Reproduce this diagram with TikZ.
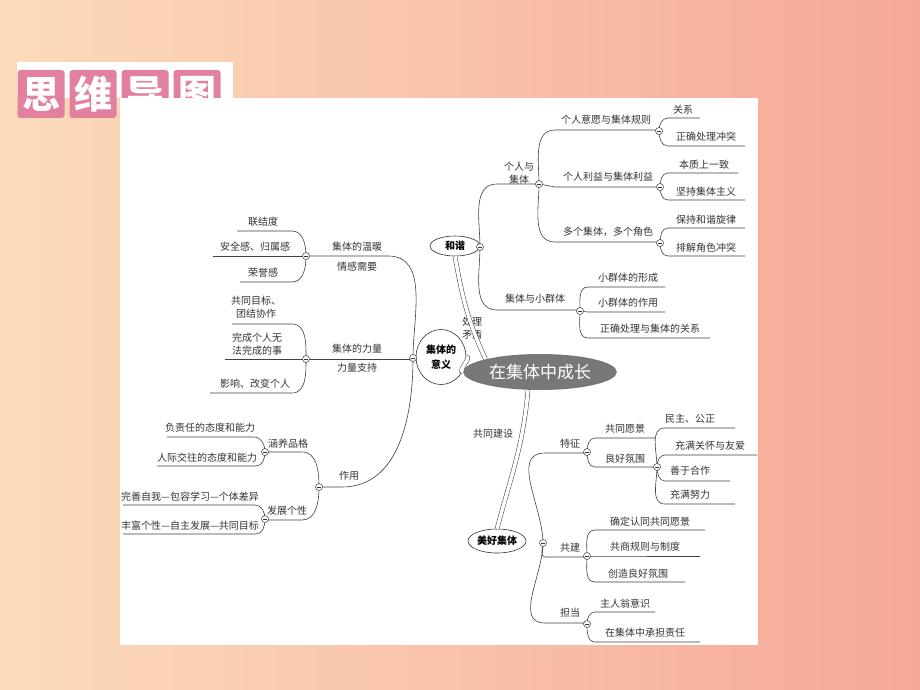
\documentclass[tikz,border=0pt]{standalone}
\usepackage{fontspec}
\setmainfont{Noto Sans CJK SC}
\usepackage{tikz}
\usetikzlibrary{shapes.geometric}
\definecolor{peach}{HTML}{FBDBBA}
\definecolor{salmon}{HTML}{F6A898}
\definecolor{titlepink}{HTML}{E2809F}
\definecolor{hub}{HTML}{787878}
\newcommand{\br}[7]{%
  \node[txt] (#1) at (#2,#3) {#7};
  \coordinate (#1-a) at (#5,#4);
  \coordinate (#1-b) at (#6,#4);}

\begin{document}
\begin{tikzpicture}[x=1pt,y=-1pt]
    \tikzstyle{txt}=[font=\fontsize{10}{13}\selectfont,inner sep=0pt,align=center,text=black!80]
    \tikzstyle{ttl}=[fill=titlepink,rounded corners=3pt,minimum width=47pt,minimum height=48pt,text=white,font=\fontsize{38}{38}\selectfont\bfseries]
    \tikzstyle{col}=[circle,draw=black!80,fill=white,line width=0.5pt,minimum size=7pt,inner sep=0pt,
      path picture={\draw ([xshift=1.5pt]path picture bounding box.west) -- ([xshift=-1.5pt]path picture bounding box.east);}]
    \tikzstyle{topic}=[ellipse,draw=black!80,fill=white,line width=0.6pt,inner sep=0pt,font=\fontsize{10}{15}\selectfont\bfseries,align=center]
    \tikzstyle{brl}=[draw=black!75,line width=0.6pt]
    \tikzstyle{link}=[draw=black!75,line width=0.5pt,double=white,double distance=3.5pt]

    % background and title
    \shade[left color=peach,right color=salmon] (0,0) rectangle (920,690);
    \fill[white] (17,62) rectangle (233,98);
    \node[ttl] (t1) at (41,94) {思};
    \node[ttl] (t2) at (93,94) {维};
    \node[ttl] (t3) at (145,94) {导};
    \node[ttl] (t4) at (197,94) {图};
    \fill[white] (120,98) rectangle (758,645);

    % main topics
    \node[ellipse,fill=hub,minimum width=115pt,minimum height=36pt,text=white,font=\fontsize{17}{17}\selectfont] (cen) at (540,372) {在集体中成长};
    \node[topic,minimum width=50pt,minimum height=55pt] (yi) at (441,357) {集体的\\意义};
    \node[topic,minimum width=50pt,minimum height=20pt] (hx) at (455,246) {和谐};
    \node[topic,minimum width=58pt,minimum height=24pt] (mh) at (497,541) {美好集体};
    \node[txt] (cl) at (472,328) {处理\\矛盾};
    \node[txt] (gjs) at (493,434) {共同建设};

    \draw[link] (hx.south) to[out=-80,in=115] (cen.north west);
    \draw[link] (yi.east) to[out=0,in=170] (cen.west);
    \draw[link] ([xshift=-12pt]cen.south) to[out=-95,in=75] (mh.north);

    % collapse points
    \coordinate (cA) at (480,247);
    \coordinate (cgr) at (539,184);
    \coordinate (cxq) at (580,311);
    \coordinate (cyy) at (659,131);
    \coordinate (cly) at (660,187);
    \coordinate (cdg) at (660,243);
    \coordinate (cM) at (543,543);
    \coordinate (ctz) at (587,452);
    \coordinate (clh) at (657,467);
    \coordinate (cgj) at (587,556);
    \coordinate (cdd) at (587,624);
    \coordinate (cY) at (413,358);
    \coordinate (cwn) at (306,256);
    \coordinate (cll) at (306,359);
    \coordinate (czy) at (319,487);
    \coordinate (chy) at (265,452);
    \coordinate (cfz) at (265,519);

    % harmony
    \br{gr}{519}{173}{184}{497}{539}{个人与\\集体}
    \br{xq}{535}{299}{310}{497}{580}{集体与小群体}
    \br{yy}{606}{120}{130}{555}{659}{个人意愿与集体规则}
    \br{ly}{608}{177}{187}{555}{660}{个人利益与集体利益}
    \br{dg}{608}{232}{242}{555}{660}{多个集体，多个角色}
    \br{gx}{683}{110}{118}{668}{700}{关系}
    \br{zq}{706}{137}{146}{668}{745}{正确处理冲突}
    \br{bz}{704}{165}{173}{668}{738}{本质上一致}
    \br{jc}{706}{192}{200}{668}{745}{坚持集体主义}
    \br{bc}{706}{220}{228}{668}{745}{保持和谐旋律}
    \br{pj}{706}{248}{256}{668}{745}{排解角色冲突}
    \br{xc}{628}{278}{287}{588}{665}{小群体的形成}
    \br{xz}{628}{303}{312}{588}{665}{小群体的作用}
    \br{zc}{650}{329}{338}{588}{710}{正确处理与集体的关系}

    \draw[brl] (cA) to[out=90,in=180] (gr-a) -- (gr-b);
    \draw[brl] (cA) to[out=-90,in=180] (xq-a) -- (xq-b);
    \draw[brl] (cgr) to[out=90,in=180] (yy-a) -- (yy-b);
    \draw[brl] (cgr) -- (ly-a) -- (ly-b);
    \draw[brl] (cgr) to[out=-90,in=180] (dg-a) -- (dg-b);
    \draw[brl] (cyy) to[out=90,in=180] (gx-a) -- (gx-b);
    \draw[brl] (cyy) to[out=-90,in=180] (zq-a) -- (zq-b);
    \draw[brl] (cly) to[out=90,in=180] (bz-a) -- (bz-b);
    \draw[brl] (cly) to[out=-90,in=180] (jc-a) -- (jc-b);
    \draw[brl] (cdg) to[out=90,in=180] (bc-a) -- (bc-b);
    \draw[brl] (cdg) to[out=-90,in=180] (pj-a) -- (pj-b);
    \draw[brl] (cxq) to[out=90,in=180] (xc-a) -- (xc-b);
    \draw[brl] (cxq) -- (xz-a) -- (xz-b);
    \draw[brl] (cxq) to[out=-90,in=180] (zc-a) -- (zc-b);

    % good collective
    \br{tz}{570}{444}{453}{545}{587}{特征}
    \br{gj}{570}{548}{557}{545}{587}{共建}
    \br{dd}{570}{613}{623}{545}{587}{担当}
    \br{gt}{625}{429}{438}{595}{655}{共同愿景}
    \br{lh}{625}{459}{467}{595}{657}{良好氛围}
    \br{mz}{690}{419}{428}{665}{735}{民主、公正}
    \br{ch}{710}{446}{455}{665}{757}{充满关怀与友爱}
    \br{sh}{690}{471}{481}{665}{730}{善于合作}
    \br{cn}{690}{495}{504}{665}{735}{充满努力}
    \br{qd}{650}{522}{530}{595}{705}{确定认同共同愿景}
    \br{gs}{645}{547}{556}{595}{700}{共商规则与制度}
    \br{cz}{638}{574}{582}{595}{685}{创造良好氛围}
    \br{zr}{625}{604}{612}{595}{655}{主人翁意识}
    \br{zd}{645}{633}{642}{595}{700}{在集体中承担责任}

    \draw[brl] (cM) to[out=90,in=180] (tz-a) -- (tz-b);
    \draw[brl] (cM) to[out=-90,in=180] (gj-a) -- (gj-b);
    \draw[brl] (cM) to[out=-90,in=180] (dd-a) -- (dd-b);
    \draw[brl] (ctz) to[out=90,in=180] (gt-a) -- (gt-b);
    \draw[brl] (ctz) to[out=-90,in=180] (lh-a) -- (lh-b);
    \draw[brl] (clh) to[out=90,in=180] (mz-a) -- (mz-b);
    \draw[brl] (clh) to[out=90,in=180] (ch-a) -- (ch-b);
    \draw[brl] (clh) to[out=-90,in=180] (sh-a) -- (sh-b);
    \draw[brl] (clh) to[out=-90,in=180] (cn-a) -- (cn-b);
    \draw[brl] (cgj) to[out=90,in=180] (qd-a) -- (qd-b);
    \draw[brl] (cgj) -- (gs-a) -- (gs-b);
    \draw[brl] (cgj) to[out=-90,in=180] (cz-a) -- (cz-b);
    \draw[brl] (cdd) to[out=90,in=180] (zr-a) -- (zr-b);
    \draw[brl] (cdd) to[out=-90,in=180] (zd-a) -- (zd-b);

    % meaning
    \br{wn}{357}{247}{256}{306}{388}{集体的温暖}
    \node[txt] (wn2) at (357,267) {情感需要};
    \br{ll}{357}{349}{359}{306}{413}{集体的力量}
    \node[txt] (ll2) at (357,368) {力量支持};
    \br{zy}{349}{476}{487}{319}{342}{作用}
    \br{lj}{263}{222}{231}{237}{292}{联结度}
    \br{aq}{255}{247}{256}{213}{306}{安全感、归属感}
    \br{ry}{263}{273}{282}{240}{292}{荣誉感}
    \br{gm}{256}{307}{324}{232}{292}{共同目标、\\团结协作}
    \br{wc}{257}{344}{359}{225}{306}{完成个人无\\法完成的事}
    \br{yx}{255}{384}{393}{210}{292}{影响、改变个人}
    \br{hy}{288}{444}{452}{265}{302}{涵养品格}
    \br{fz}{287}{511}{520}{265}{302}{发展个性}
    \br{fr}{210}{428}{437}{167}{254}{负责任的态度和能力}
    \br{rj}{207}{458}{466}{157}{256}{人际交往的态度和能力}
    \br{ws}{190}{497}{505}{123}{255}{完善自我—包容学习—个体差异}
    \br{fg}{190}{526}{534}{123}{256}{丰富个性—自主发展—共同目标}

    \draw[brl] (cY) to[out=90,in=0] (wn-b) -- (wn-a);
    \draw[brl] (ll-b) -- (ll-a);
    \draw[brl] (cY) to[out=-90,in=0] (zy-b) -- (zy-a);
    \draw[brl] (cwn) to[out=90,in=0] (lj-b) -- (lj-a);
    \draw[brl] (aq-b) -- (aq-a);
    \draw[brl] (cwn) to[out=-90,in=0] (ry-b) -- (ry-a);
    \draw[brl] (cll) to[out=90,in=0] (gm-b) -- (gm-a);
    \draw[brl] (wc-b) -- (wc-a);
    \draw[brl] (cll) to[out=-90,in=0] (yx-b) -- (yx-a);
    \draw[brl] (czy) to[out=90,in=0] (hy-b) -- (hy-a);
    \draw[brl] (czy) to[out=-90,in=0] (fz-b) -- (fz-a);
    \draw[brl] (chy) to[out=90,in=0] (fr-b) -- (fr-a);
    \draw[brl] (chy) to[out=-90,in=0] (rj-b) -- (rj-a);
    \draw[brl] (cfz) to[out=90,in=0] (ws-b) -- (ws-a);
    \draw[brl] (cfz) to[out=-90,in=0] (fg-b) -- (fg-a);

    % collapse marks
    \foreach \c in {cA,cgr,cxq,cyy,cly,cdg,cM,ctz,clh,cgj,cdd,cY,cwn,cll,czy,chy,cfz}
      \node[col] (\c-m) at (\c) {};
\end{tikzpicture}
\end{document}
